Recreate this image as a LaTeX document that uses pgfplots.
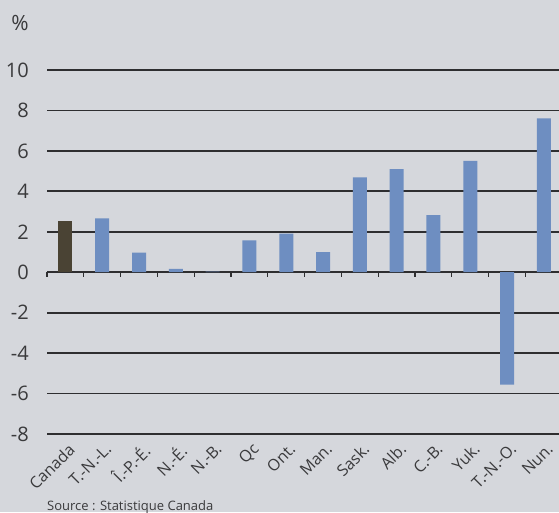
\documentclass[border=0pt]{standalone}
\usepackage{pgfplots}
\pgfplotsset{compat=1.18}
\usepackage{fontspec}
\setmainfont{Open Sans}
\definecolor{bg}{HTML}{D5D7DC}
\definecolor{barblue}{HTML}{6E8EC1}
\definecolor{canbar}{HTML}{4A4334}
\definecolor{gridc}{HTML}{2E2E30}
\definecolor{txt}{HTML}{3A3A3C}
\begin{document}
\begin{tikzpicture}[x=1pt,y=1pt]
\fill[bg] (0,0) rectangle (559,512);
\useasboundingbox (0,0) rectangle (559,512);
\begin{axis}[
  at={(47pt,78pt)}, anchor=south west,
  scale only axis, width=512pt, height=364pt,
  xmin=-0.5, xmax=13.41, ymin=-8, ymax=10,
  axis line style={draw=none},
  major tick length=0pt,
  ytick={-8,-6,-4,-2,0,2,4,6,8,10},
  yticklabels={-8,-6,-4,-2,0,2,4,6,8,10},
  yticklabel style={font=\fontsize{20}{22}\selectfont, text=txt, anchor=east, inner sep=0pt, xshift=-18pt},
  ymajorgrids,
  grid style={gridc, line width=1.8pt},
  xtick={0,1,2,3,4,5,6,7,8,9,10,11,12,13},
  xticklabels={Canada,T.-N.-L.,Î.-P.-É.,N.-É.,N.-B.,Qc,Ont.,Man.,Sask.,Alb.,C.-B.,Yuk.,T.-N.-O.,Nun.},
  xticklabel style={font=\fontsize{16}{18}\selectfont, text=txt, xshift=2pt, yshift=-8pt, rotate=45, anchor=north east, inner sep=0pt},
  ybar, bar width=14pt,
  clip=false,
]
\addplot[ybar, bar shift=0pt, fill=canbar, draw=none] coordinates {(0,2.55)};
\addplot[ybar, bar shift=0pt, fill=barblue, draw=none] coordinates {
 (1,2.66) (2,0.97) (3,0.16) (4,0.03) (5,1.58) (6,1.91) (7,1.0)
 (8,4.69) (9,5.1) (10,2.82) (11,5.51) (12,-5.56) (13,7.61)};
\pgfplotsinvokeforeach{-0.5,0.5,1.5,2.5,3.5,4.5,5.5,6.5,7.5,8.5,9.5,10.5,11.5,12.5}{
  \draw[gridc, line width=1.2pt] (axis cs:#1,0) -- ([yshift=-5pt]axis cs:#1,0);
}
\end{axis}
\node[anchor=center, font=\fontsize{21}{23}\selectfont, text=txt] at (20,489) {\%};
\node[anchor=base west, inner sep=0pt, font=\fontsize{13}{15}\selectfont, text=txt] at (47,2) {Source : Statistique Canada};
\end{tikzpicture}
\end{document}
